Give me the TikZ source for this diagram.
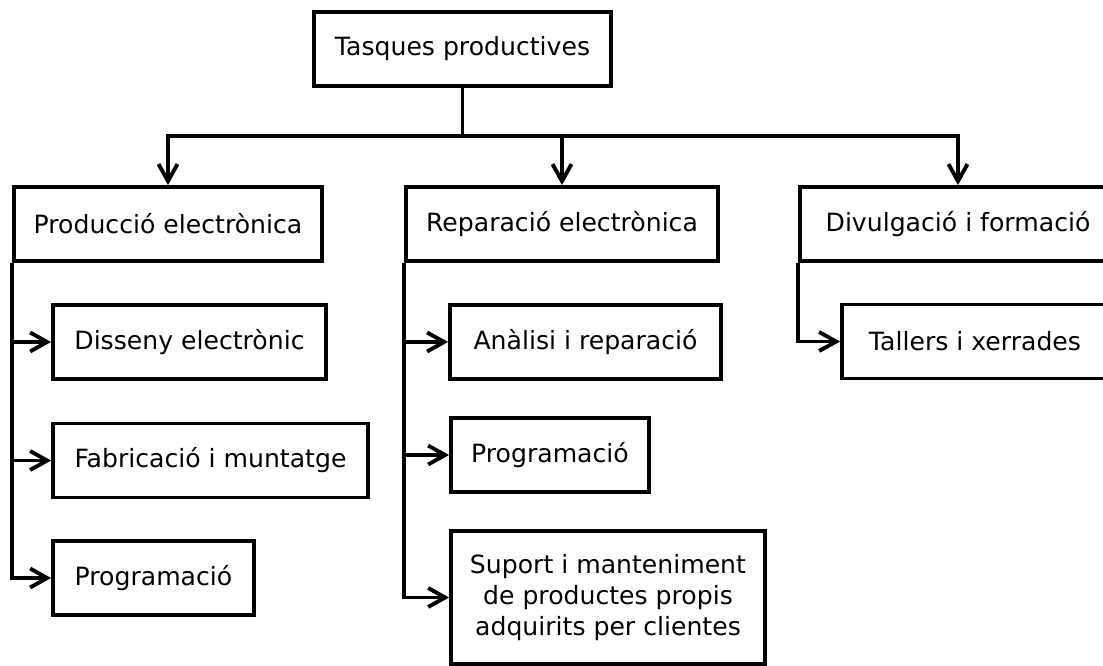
\documentclass[tikz,border=0pt]{standalone}
\usepackage{fontspec}
\setmainfont{DejaVu Sans}
\usetikzlibrary{arrows.meta}

\begin{document}
\begin{tikzpicture}[x=0.02cm,y=-0.02cm,line width=2.2pt,->,>={Straight Barb[length=3.4mm,width=3.8mm]}]
  \tikzstyle{box}=[draw,rectangle,minimum height=1.48cm,inner sep=2pt,align=center,font=\fontsize{14.3}{17.6}\selectfont]
  \useasboundingbox (0,0) rectangle (1103,666);
  \clip (0,0) rectangle (1103,666);
  \node[box,minimum width=5.94cm] (Top) at (462.5,49) {Tasques productives};
  \node[box,minimum width=6.16cm] (Prod) at (168,224) {Producció electrònica};
  \node[box,minimum width=6.24cm] (Rep) at (562,224) {Reparació electrònica};
  \node[box,minimum width=6.32cm] (Div) at (958,224) {Divulgació i formació};
  \node[box,minimum width=5.46cm] (Prod_1) at (189.5,342) {Disseny electrònic};
  \node[box,minimum width=6.30cm] (Prod_2) at (210.5,460.5) {Fabricació i muntatge};
  \node[box,minimum width=4.02cm] (Prod_3) at (153.5,578) {Programació};
  \node[box,minimum width=5.42cm] (Rep_1) at (585.5,342) {Anàlisi i reparació};
  \node[box,minimum width=3.96cm] (Rep_2) at (550,455) {Programació};
  \node[box,minimum width=6.28cm,minimum height=2.66cm] (Rep_3) at (608,597.5) {Suport i manteniment\\de productes propis\\adquirits per clientes};
  \node[box,minimum width=5.32cm] (Div_1) at (975,341.5) {Tallers i xerrades};
  \coordinate (split) at (462.5,136);
  \draw[-] (Top.south) -- (split);
  \draw (split) -| (Prod);
  \draw (split) -| (Rep);
  \draw (split) -| (Div);
  \draw (Prod.south west) |- (Prod_1);
  \draw (Prod.south west) |- (Prod_2);
  \draw (Prod.south west) |- (Prod_3);
  \draw (Rep.south west) |- (Rep_1);
  \draw (Rep.south west) |- (Rep_2);
  \draw (Rep.south west) |- (Rep_3);
  \draw (Div.south west) |- (Div_1);
\end{tikzpicture}
\end{document}
